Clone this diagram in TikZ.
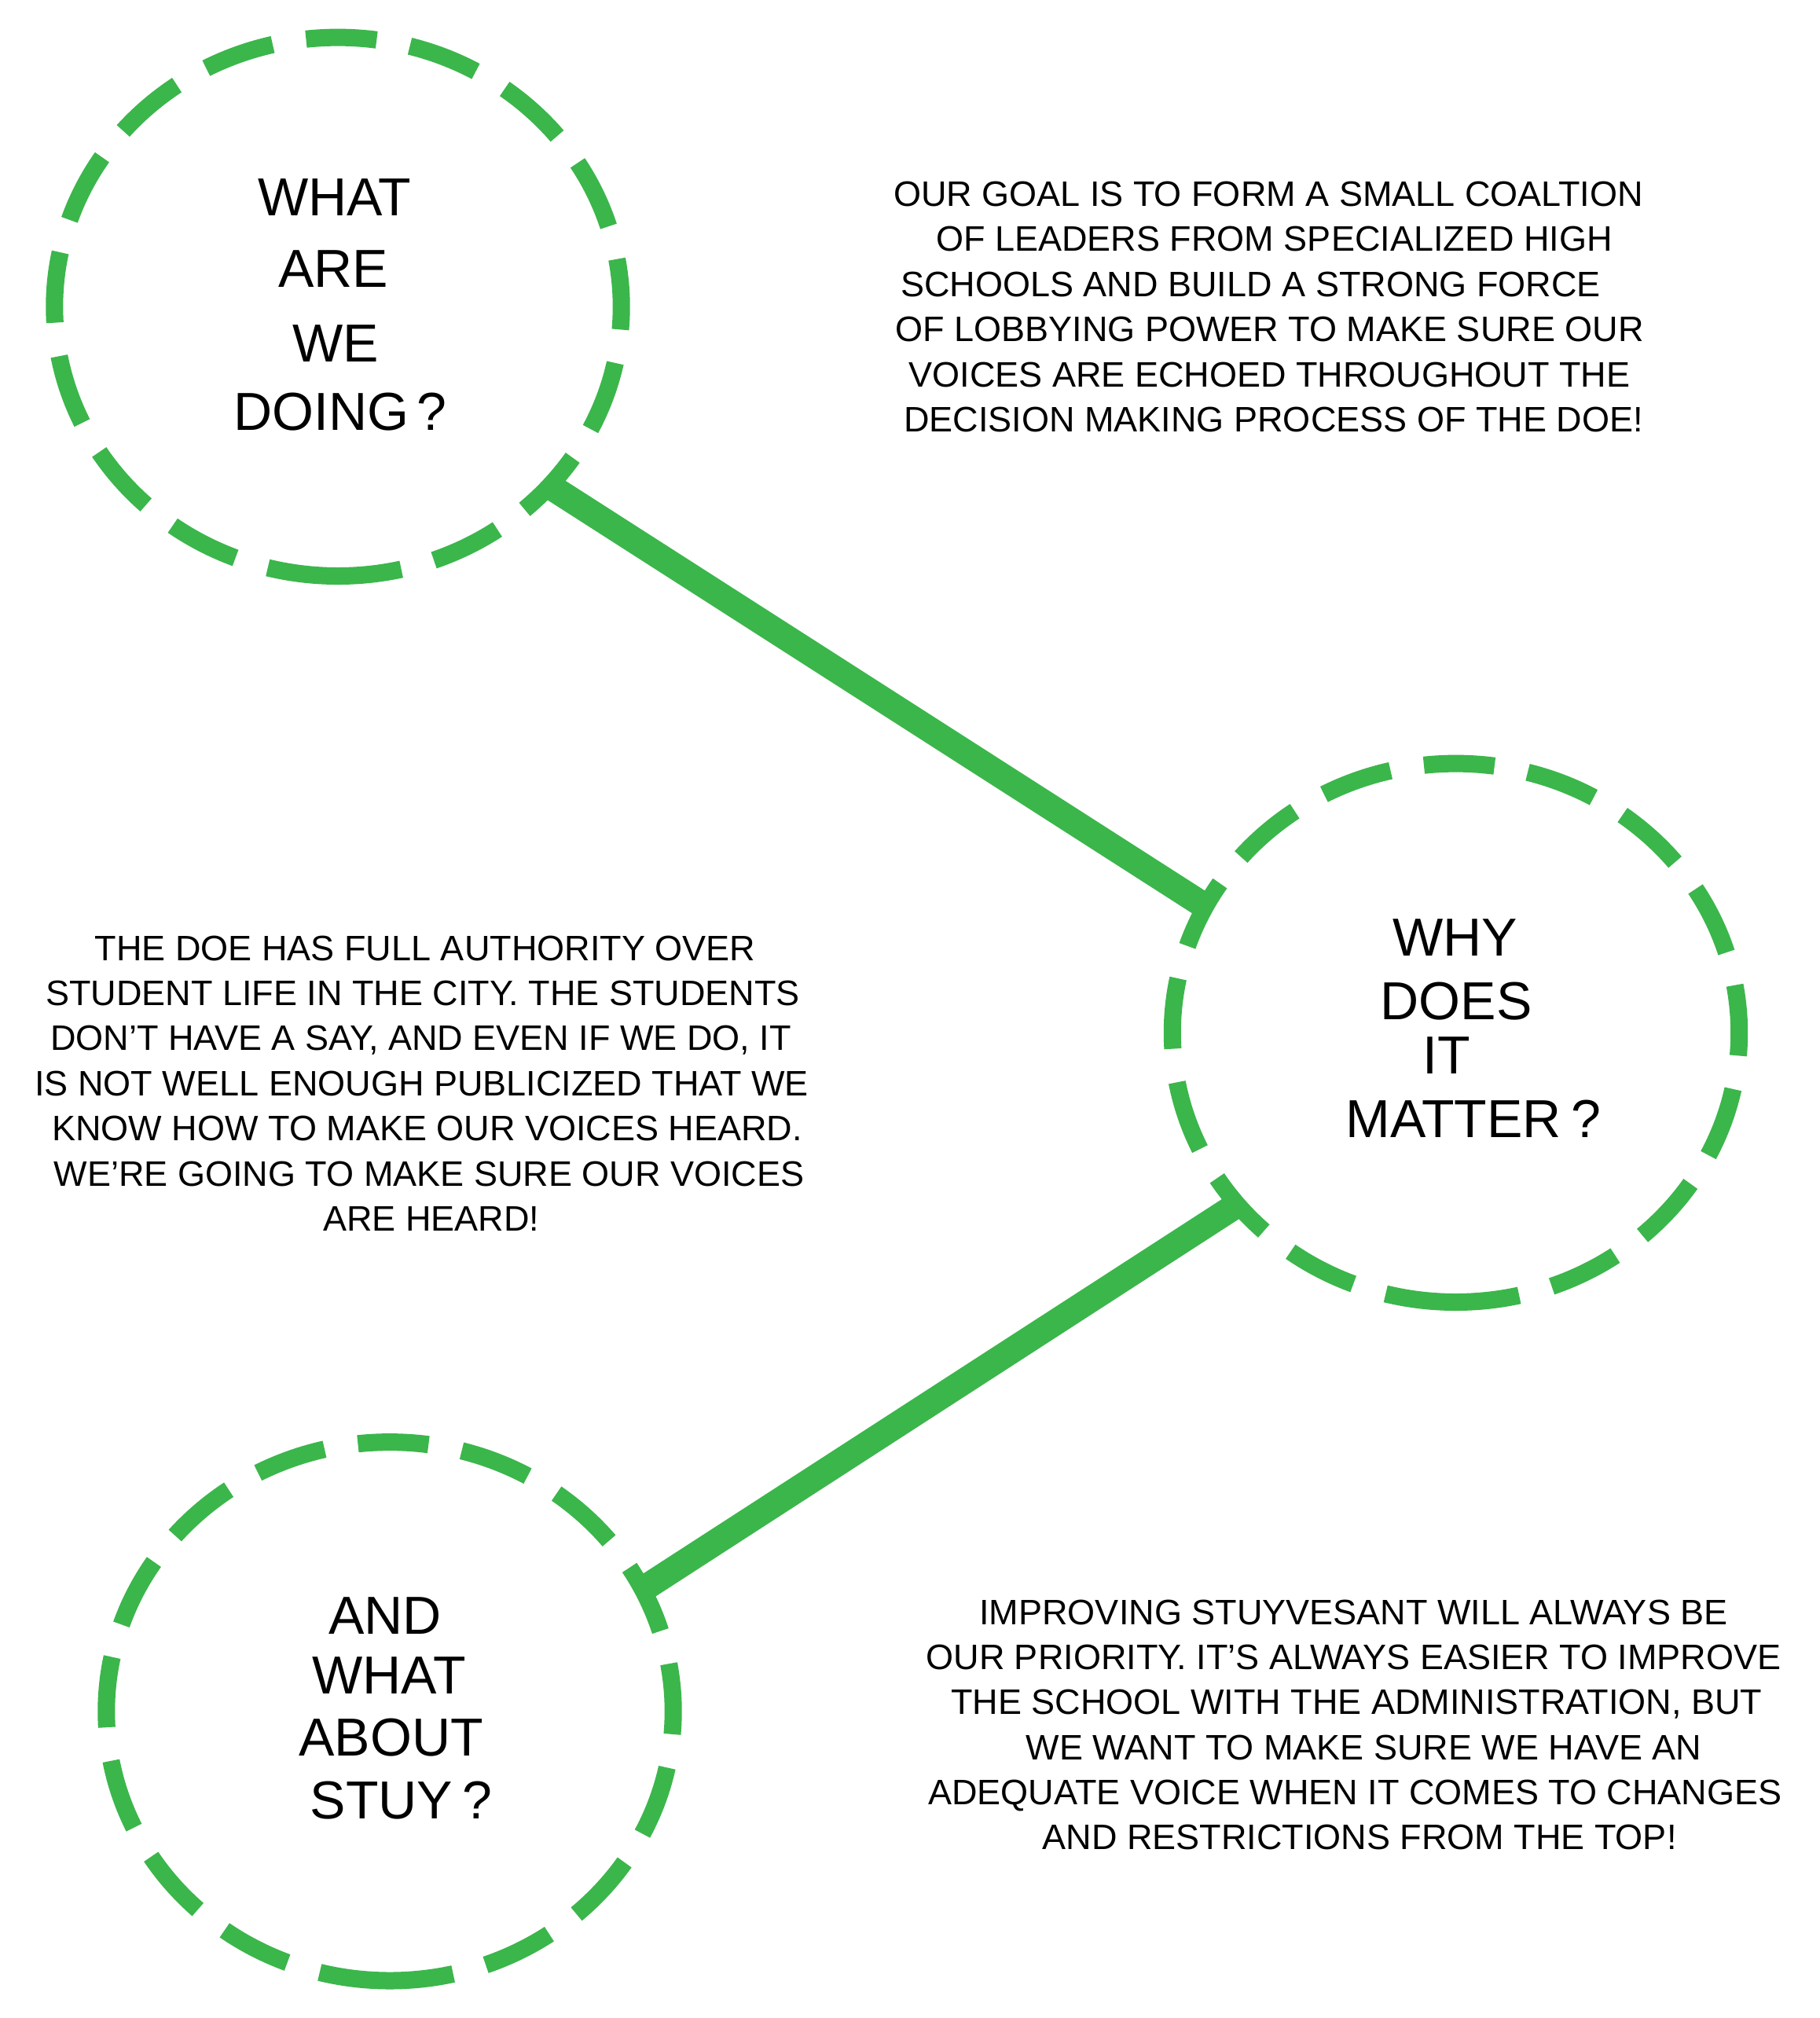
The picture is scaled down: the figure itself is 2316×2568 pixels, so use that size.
\documentclass[tikz,border=0pt]{standalone}
\usepackage{fontspec}
\setmainfont{Liberation Sans}
\usetikzlibrary{shapes.geometric}
\definecolor{ringgreen}{RGB}{59,182,75}
\tikzset{
  ring/.style={draw=ringgreen, line width=0.22cm, dash pattern=on 0.9cm off 0.43cm},
  hub/.style={ellipse, minimum width=7.43cm, minimum height=7.07cm, inner sep=0pt, outer sep=0pt},
  link/.style={draw=ringgreen, line width=0.33cm, shorten <=-0.08cm, shorten >=-0.08cm},
  title/.style={anchor=base, inner sep=0pt, font=\fontsize{19.35pt}{23pt}\selectfont},
  body/.style={anchor=base, inner sep=0pt, font=\fontsize{12.8pt}{15pt}\selectfont},
}
\begin{document}
\begin{tikzpicture}[x=0.01cm, y=0.01cm]
\useasboundingbox (0,0) rectangle (2316,-2568);
\fill[white] (0,0) rectangle (2316,-2568);

% hubs
\node[hub] (c1) at (430,-390.5) {};
\node[hub] (c2) at (1852.5,-1314.5) {};
\node[hub] (c3) at (496,-2178) {};

% connectors
\draw[link] (c1.-40.8) -- (c2.153.9);
\draw[link] (c2.218.2) -- (c3.26.5);

% dashed rings
\draw[ring] (c1.center) ++(0,-342.5) arc[start angle=270, end angle=-90, x radius=3.605cm, y radius=3.425cm];
\draw[ring] (c2.center) ++(0,-342.5) arc[start angle=270, end angle=-90, x radius=3.605cm, y radius=3.425cm];
\draw[ring] (c3.center) ++(0,-342.5) arc[start angle=270, end angle=-90, x radius=3.605cm, y radius=3.425cm];

% titles
\node[title] (t1a) at (425.8,-274) {WHAT};
\node[title] (t1b) at (424.3,-365.8) {ARE};
\node[title] (t1c) at (427.2,-460.2) {WE};
\node[title] (t1d) at (433,-547) {DOING\hspace{0.1cm}?};

\node[title] (t2a) at (1852,-1216.3) {WHY};
\node[title] (t2b) at (1853,-1297.5) {DOES};
\node[title] (t2c) at (1841,-1366.8) {IT};
\node[title] (t2d) at (1874.6,-1447) {MATTER\hspace{0.12cm}?};

\node[title] (t3a) at (490,-2079.7) {AND};
\node[title] (t3b) at (495.2,-2155.8) {WHAT};
\node[title] (t3c) at (497.5,-2234.5) {ABOUT};
\node[title] (t3d) at (510.5,-2314) {STUY\hspace{0.12cm}?};

% top-right paragraph
\node[body] (p1a) at (1614,-262.5) {OUR GOAL IS TO FORM A SMALL COALTION};
\node[body] (p1b) at (1621.5,-319.9) {OF LEADERS FROM SPECIALIZED HIGH};
\node[body] (p1c) at (1591.5,-377.3) {SCHOOLS AND BUILD A STRONG FORCE};
\node[body] (p1d) at (1615.5,-434.7) {OF LOBBYING POWER TO MAKE SURE OUR};
\node[body] (p1e) at (1615.5,-492.1) {VOICES ARE ECHOED THROUGHOUT THE};
\node[body] (p1f) at (1620.5,-549.5) {DECISION MAKING PROCESS OF THE DOE!};

% left paragraph
\node[body] (p2a) at (541,-1222) {THE DOE HAS FULL AUTHORITY OVER};
\node[body] (p2b) at (538,-1279.4) {STUDENT LIFE IN THE CITY. THE STUDENTS};
\node[body] (p2c) at (535.5,-1336.8) {DON’T HAVE A SAY, AND EVEN IF WE DO, IT};
\node[body] (p2d) at (536.7,-1394.2) {IS NOT WELL ENOUGH PUBLICIZED THAT WE};
\node[body] (p2e) at (543.7,-1451.6) {KNOW HOW TO MAKE OUR VOICES HEARD.};
\node[body] (p2f) at (546,-1509) {WE’RE GOING TO MAKE SURE OUR VOICES};
\node[body] (p2g) at (549,-1566.4) {ARE HEARD!};

% bottom-right paragraph
\node[body] (p3a) at (1722.5,-2067.5) {IMPROVING STUYVESANT WILL ALWAYS BE};
\node[body] (p3b) at (1722.5,-2124.7) {OUR PRIORITY. IT’S ALWAYS EASIER TO IMPROVE};
\node[body] (p3c) at (1726.2,-2181.9) {THE SCHOOL WITH THE ADMINISTRATION, BUT};
\node[body] (p3d) at (1735.5,-2239.1) {WE WANT TO MAKE SURE WE HAVE AN};
\node[body] (p3e) at (1724.4,-2296.3) {ADEQUATE VOICE WHEN IT COMES TO CHANGES};
\node[body] (p3f) at (1730,-2353.5) {AND RESTRICTIONS FROM THE TOP!};
\end{tikzpicture}
\end{document}
